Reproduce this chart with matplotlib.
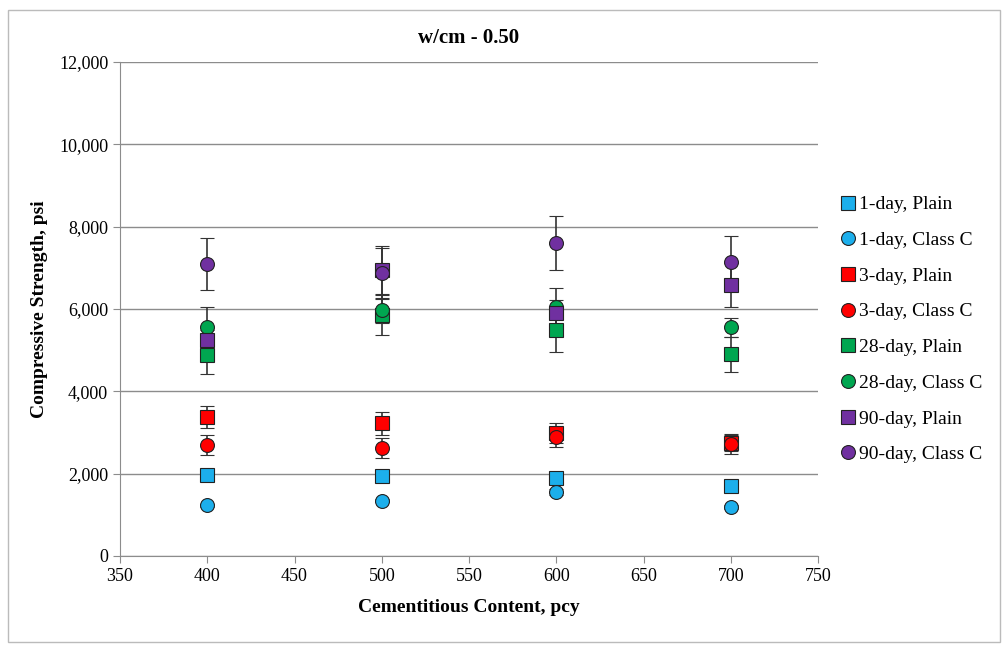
import matplotlib.pyplot as plt
from matplotlib.patches import Rectangle
from matplotlib.lines import Line2D

plt.rcParams['font.family'] = ['Liberation Serif', 'DejaVu Serif']

content = [400, 500, 600, 700]

labels = ['1-day, Plain', '1-day, Class C', '3-day, Plain', '3-day, Class C',
          '28-day, Plain', '28-day, Class C', '90-day, Plain', '90-day, Class C']

day1_plain = [1960, 1950, 1900, 1710]
day1_classc = [1230, 1340, 1550, 1190]
day3_plain = [3380, 3230, 2990, 2750]
day3_classc = [2700, 2630, 2890, 2720]
day28_plain = [4880, 5850, 5490, 4900]
day28_classc = [5560, 5970, 6050, 5560]
day90_plain = [5250, 6950, 5910, 6580]
day90_classc = [7090, 6870, 7600, 7140]

err1_plain = [40, 40, 40, 40]
err1_classc = [40, 40, 80, 40]
err3_plain = [270, 280, 240, 200]
err3_classc = [250, 240, 250, 240]
err28_plain = [460, 480, 530, 430]
err28_classc = [490, 300, 450, 230]
err90_plain = [250, 580, 300, 530]
err90_classc = [630, 620, 660, 630]

series = [day1_plain, day1_classc, day3_plain, day3_classc,
          day28_plain, day28_classc, day90_plain, day90_classc]
errors = [err1_plain, err1_classc, err3_plain, err3_classc,
          err28_plain, err28_classc, err90_plain, err90_classc]
colors = ['#1CAFEC', '#1CAFEC', '#FF0000', '#FF0000',
          '#00A650', '#00A650', '#7030A0', '#7030A0']
markers = ['s', 'o'] * 4

fig = plt.figure(figsize=(10.08, 6.5), dpi=100)
ax = fig.add_axes([120/1008, 1-556/650, 698/1008, 494/650])

# light frame around the whole chart
fig.patches.append(Rectangle((8/1008, 8/650), 992/1008, 632/650, transform=fig.transFigure,
                             fill=False, edgecolor='#BBBBBB', linewidth=1))

handles = []
for i in range(len(series)):
    ax.errorbar(content, series[i], yerr=errors[i], fmt=markers[i], color=colors[i],
                markeredgecolor='#222222', markeredgewidth=0.8, markersize=10,
                ecolor='#333333', elinewidth=1.2, capsize=5, capthick=1.2, zorder=3)
    handles.append(Line2D([], [], linestyle='none', marker=markers[i], color=colors[i],
                          markeredgecolor='#222222', markeredgewidth=0.8, markersize=10,
                          label=labels[i]))

ax.set_xlim(350, 750)
ax.set_ylim(0, 12000)
ax.set_xticks(range(350, 751, 50))
ax.set_yticks(range(0, 12001, 2000))
ax.set_yticklabels([f'{v:,}' for v in range(0, 12001, 2000)])
ax.yaxis.grid(True, color='#8C8C8C', linewidth=1)
ax.set_axisbelow(True)
for s in ['top', 'right']:
    ax.spines[s].set_visible(False)
for s in ['left', 'bottom']:
    ax.spines[s].set_color('#8C8C8C')
ax.tick_params(axis='both', labelsize=13, color='#8C8C8C', length=5)

ax.set_title('w/cm - 0.50', fontsize=15, fontweight='bold', pad=14)
ax.set_ylabel('Compressive Strength, psi', fontsize=14, fontweight='bold', labelpad=8)
ax.set_xlabel('Cementitious Content, pcy', fontsize=14, fontweight='bold', labelpad=10)

ax.legend(handles=handles, loc='upper left', bbox_to_anchor=(1.02, 0.745), frameon=False,
          fontsize=14, handlelength=0.8, handletextpad=0.2, labelspacing=0.93, borderaxespad=0)

fig.savefig('out.png', dpi=100)
